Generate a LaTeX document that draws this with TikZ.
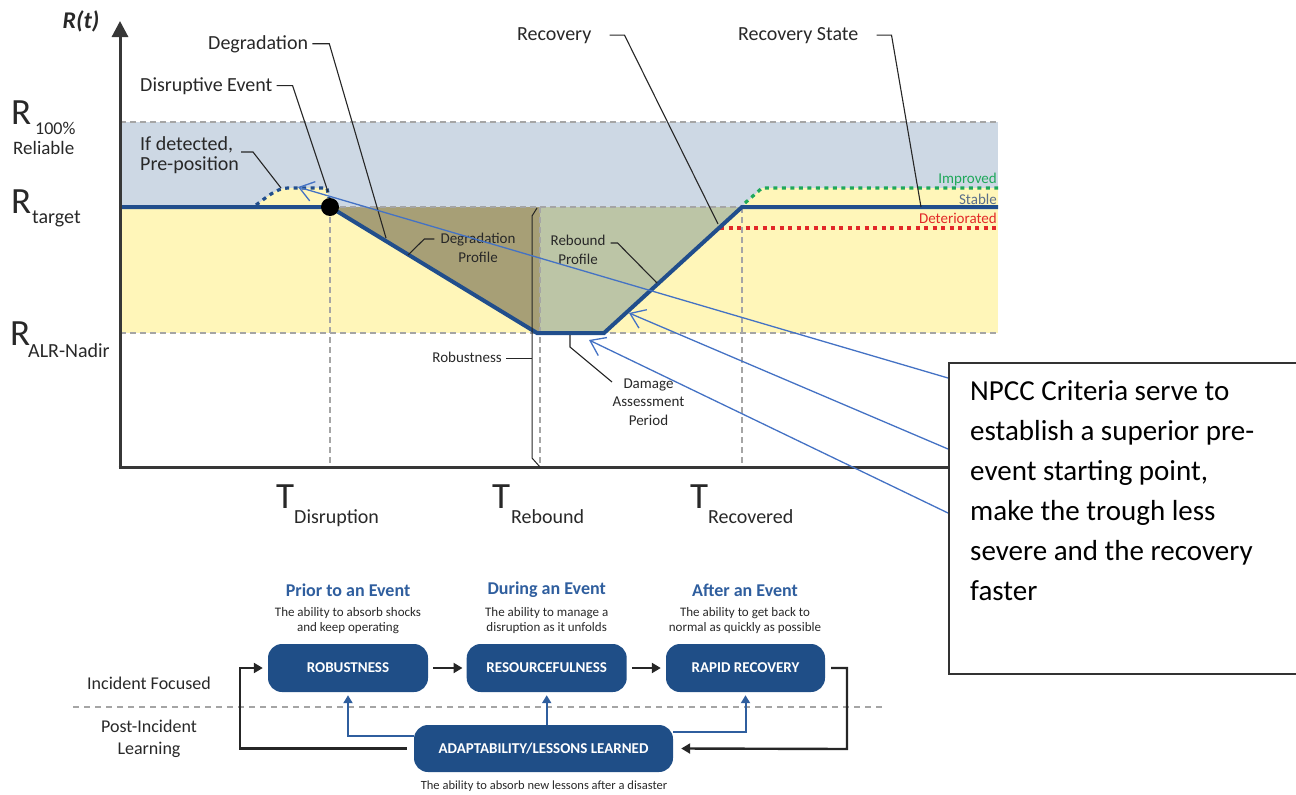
\documentclass[tikz,border=0pt]{standalone}
\usepackage{fontspec}
\setmainfont{Carlito}
\usetikzlibrary{arrows.meta}
\definecolor{bandblue}{RGB}{205,216,228}
\definecolor{bandyellow}{RGB}{255,246,185}
\definecolor{olivefill}{RGB}{167,159,118}
\definecolor{rebfill}{RGB}{188,197,166}
\definecolor{curveblue}{RGB}{33,78,140}
\definecolor{gridgrey}{RGB}{165,165,165}
\definecolor{impgreen}{RGB}{30,168,90}
\definecolor{detred}{RGB}{226,40,40}
\definecolor{stablegrey}{RGB}{90,110,138}
\definecolor{callblue}{RGB}{68,114,196}
\definecolor{boxblue}{RGB}{31,78,135}
\definecolor{headblue}{RGB}{47,94,158}
\definecolor{txtgrey}{RGB}{40,40,40}
\definecolor{axisgrey}{RGB}{55,55,55}
\newcommand\myfs[2]{\fontsize{#1}{#2}\selectfont}
\begin{document}
\begin{tikzpicture}[x=1pt,y=-1pt,
  gridline/.style={draw=gridgrey, line width=1.5pt, dash pattern=on 6pt off 4pt},
  leader/.style={draw=black!85, line width=1.1pt},
  lbl/.style={inner sep=0pt, text=txtgrey, font=\myfs{20}{20}},
  smalllbl/.style={inner sep=0pt, text=txtgrey, font=\myfs{15}{18.5}, align=center},
  bigletter/.style={inner sep=0pt, font=\myfs{37}{37}, text=txtgrey},
  subletter/.style={inner sep=0pt, font=\myfs{20}{20}, text=txtgrey},
  statelbl/.style={inner sep=0pt, font=\myfs{15}{15}},
  callout/.style={draw=callblue, line width=1.3pt, -{Straight Barb[length=14pt,width=20pt]}},
  curve/.style={draw=curveblue, line width=4pt},
  dotline/.style={line width=3.2pt, dash pattern=on 4pt off 4.5pt},
  axis/.style={draw=axisgrey, line width=3pt},
  resbox/.style={rounded corners=14pt, fill=boxblue, text=white, font=\bfseries\myfs{15}{15}, minimum width=160pt, minimum height=48pt, inner sep=0pt},
  blkarrow/.style={draw=black!85, line width=2.4pt, -{Triangle[length=9pt,width=10pt]}},
  bluearrow/.style={draw=headblue, line width=2pt, -{Triangle[length=8pt,width=9pt]}},
  headtxt/.style={inner sep=0pt, font=\bfseries\myfs{18}{18}, text=headblue},
  subtxt/.style={inner sep=0pt, font=\myfs{13}{15.5}, text=txtgrey, align=center},
  sidetxt/.style={inner sep=0pt, font=\myfs{18}{22}, text=txtgrey, align=center},
  npcctxt/.style={inner sep=0pt, font=\myfs{29}{40}, text=black, anchor=base west}
]
\useasboundingbox (0,0) rectangle (1296,795);

% ---------- bands ----------
\fill[bandblue] (120,122) rectangle (998,207);
\fill[bandyellow] (120,207) rectangle (998,333);
\fill[bandyellow] (253,207) .. controls (265,200) and (275,188) .. (288,188) -- (326,188) -- (332,207) -- cycle;
\fill[bandyellow] (742,207) -- (762,188) -- (998,188) -- (998,207) -- cycle;
\fill[olivefill] (330,207) -- (537,333) -- (540,333) -- (540,207) -- cycle;
\fill[rebfill] (540,207) -- (540,333) -- (604,333) -- (742,207) -- cycle;

% ---------- grid lines ----------
\draw[gridline] (120,122) -- (998,122);
\draw[gridline] (120,207) -- (998,207);
\draw[gridline] (120,333) -- (998,333);
\draw[gridline] (330,207) -- (330,466);
\draw[gridline] (540,207) -- (540,466);
\draw[gridline] (742,207) -- (742,466);

% ---------- recovery states ----------
\draw[dotline, draw=detred] (720,228) -- (998,228);
\draw[dotline, draw=impgreen] (745,203) -- (762,188) -- (998,188);
\draw[dotline, draw=curveblue] (256,205) .. controls (266,198) and (276,188) .. (288,188) -- (327,188) -- (329,198);

% ---------- main curve ----------
\draw[curve] (120,207) -- (330,207) -- (537,333) -- (604,333) -- (742,207) -- (998,207);
\fill[black] (330,207) circle (9pt);

% ---------- axes ----------
\draw[axis, -{Triangle[length=16pt,width=16pt]}] (120,467) -- (120,21);
\draw[axis] (118.5,467) -- (948,467);
\node[inner sep=0pt, font=\bfseries\itshape\myfs{24}{24}, text=txtgrey] (rt) at (81,21) {R(t)};

% ---------- axis labels ----------
\node[bigletter, anchor=base west] (r100) at (11,124) {R};
\node[subletter, anchor=base west, font=\myfs{18}{18}] (r100a) at (35,134) {100\%};
\node[subletter, anchor=base west, font=\myfs{19}{19}] (r100b) at (13,154) {Reliable};
\node[bigletter, anchor=base west] (rtar) at (11,213) {R};
\node[subletter, anchor=base west] (rtara) at (32,223) {target};
\node[bigletter, anchor=base west] (rnad) at (10,345) {R};
\node[subletter, anchor=base west] (rnada) at (28,357) {ALR-Nadir};
\node[bigletter, anchor=base west] (tdis) at (276,508) {T};
\node[subletter, anchor=base west] (tdisa) at (294,523) {Disruption};
\node[bigletter, anchor=base west] (treb) at (492,508) {T};
\node[subletter, anchor=base west] (treba) at (511,523) {Rebound};
\node[bigletter, anchor=base west] (trec) at (690,508) {T};
\node[subletter, anchor=base west] (treca) at (708,523) {Recovered};

% ---------- callout labels ----------
\coordinate (degrpt) at (386,238);
\coordinate (disrpt) at (328,192);
\coordinate (ifdpt) at (281,188);
\coordinate (recpt) at (718,224);
\coordinate (rspt) at (921,207);
\coordinate (dppt) at (408,255);
\coordinate (rppt) at (657,283);
\coordinate (dmgpt) at (570,335);
\node[lbl, anchor=base west] (degr) at (208,49) {Degradation};
\draw[leader] ([xshift=4pt]degr.east) -- ++(17,0) -- (degrpt);
\node[lbl, anchor=base west] (disr) at (140,91) {Disruptive Event};
\draw[leader] ([xshift=4pt]disr.east) -- ++(16,0) -- (disrpt);
\node[lbl, anchor=north west, align=left, font=\myfs{20}{20}] (ifd) at (140,136) {If detected,\\Pre-position};
\node[lbl, anchor=base west] (recov) at (517,40) {Recovery};
\draw[leader] ([xshift=18pt]recov.east) -- ++(15,0) -- (recpt);
\node[lbl, anchor=base west] (rstate) at (738,40) {Recovery State};
\draw[leader] ([xshift=18pt]rstate.east) -- ++(15,0) -- (rspt);
\draw[leader] (241,152) -- (253,152) -- (ifdpt);

\node[smalllbl] (dprof) at (478,248) {Degradation\\Profile};
\draw[leader] ([xshift=-6pt,yshift=9pt]dprof.west) -- ++(-10,0) -- (dppt);
\node[smalllbl] (rprof) at (578,250) {Rebound\\Profile};
\draw[leader] ([xshift=5pt,yshift=7pt]rprof.east) -- ++(7,0) -- (rppt);
\node[smalllbl, anchor=base east] (robl) at (502,362) {Robustness};
\draw[leader, line width=1pt] (537,208) -- (532,216) -- (532,458) -- (540,467);
\draw[leader, line width=1pt] ([xshift=4pt]robl.east |- 0,358) -- (532,358);
\node[smalllbl] (dmg) at (648.5,402) {Damage\\Assessment\\Period};
\draw[leader] (612,382) -- (570,347) -- (dmgpt);

\node[statelbl, anchor=base east, text=impgreen] (imp) at (997,183) {Improved};
\node[statelbl, anchor=base east, text=stablegrey] (stab) at (997,204) {Stable};
\node[statelbl, anchor=base east, text=detred] (det) at (997,223) {Deteriorated};

% ---------- NPCC callout ----------
\coordinate (c1s) at (948,378);
\coordinate (c2s) at (948,449);
\coordinate (c3s) at (948,513);
\coordinate (c1t) at (298,187);
\coordinate (c2t) at (629,313);
\coordinate (c3t) at (589,340);
\draw[callout] (c1s) -- (c1t);
\draw[callout] (c2s) -- (c2t);
\draw[callout] (c3s) -- (c3t);
\node[draw=black!80, line width=1.8pt, fill=white, anchor=north west, minimum width=400pt, minimum height=311pt, inner sep=0pt] (npcc) at (948,362) {};
\node[npcctxt] (n1) at (970,400) {NPCC Criteria serve to};
\node[npcctxt] (n2) at (970,440) {establish a superior pre-};
\node[npcctxt] (n3) at (970,480) {event starting point,};
\node[npcctxt] (n4) at (970,520) {make the trough less};
\node[npcctxt] (n5) at (970,560) {severe and the recovery};
\node[npcctxt] (n6) at (970,600) {faster};

% ---------- resilience framework ----------
\node[headtxt] (h1) at (348,590) {Prior to an Event};
\node[headtxt] (h2) at (546.7,590) {During an Event};
\node[headtxt] (h3) at (745,590) {After an Event};
\node[subtxt] (s1) at (348,620.5) {The ability to absorb shocks\\and keep operating};
\node[subtxt] (s2) at (546.7,620.5) {The ability to manage a\\disruption as it unfolds};
\node[subtxt] (s3) at (745,620.5) {The ability to get back to\\normal as quickly as possible};
\node[resbox] (robust) at (348,668) {ROBUSTNESS};
\node[resbox] (resource) at (546.7,668) {RESOURCEFULNESS};
\node[resbox, minimum width=159pt] (rapid) at (745.5,668) {RAPID RECOVERY};
\node[resbox, minimum width=259pt, minimum height=47pt] (adapt) at (543.5,748.5) {ADAPTABILITY/LESSONS LEARNED};
\node[subtxt, font=\myfs{12.5}{14}] (s4) at (544,786) {The ability to absorb new lessons after a disaster};
\node[sidetxt] (incf) at (149,683) {Incident Focused};
\node[sidetxt] (post) at (149,739) {Post-Incident\\Learning};
\draw[draw=gridgrey, line width=1.8pt, dash pattern=on 6pt off 5pt] (73,707) -- (882,707);

\coordinate (rl) at (847,749);
\coordinate (ll) at (240,668);
\draw[blkarrow] ([xshift=5pt]robust.east) -- ([xshift=-4pt]resource.west);
\draw[blkarrow] ([xshift=5pt]resource.east) -- ([xshift=-5pt]rapid.west);
\draw[blkarrow] ([xshift=6pt]rapid.east) -| (rl) -- ([xshift=8pt]adapt.east);
\draw[blkarrow] ([xshift=-7pt]adapt.west) -| (ll) -- ([xshift=-5pt]robust.west);
\draw[bluearrow] ([yshift=12.5pt]adapt.west) -| ([yshift=-3pt]robust.south);
\draw[bluearrow] (resource.south |- adapt.north) -- ([yshift=-3pt]resource.south);
\draw[bluearrow] ([yshift=16.5pt]adapt.east) -| ([yshift=-3pt]rapid.south);
\end{tikzpicture}
\end{document}
